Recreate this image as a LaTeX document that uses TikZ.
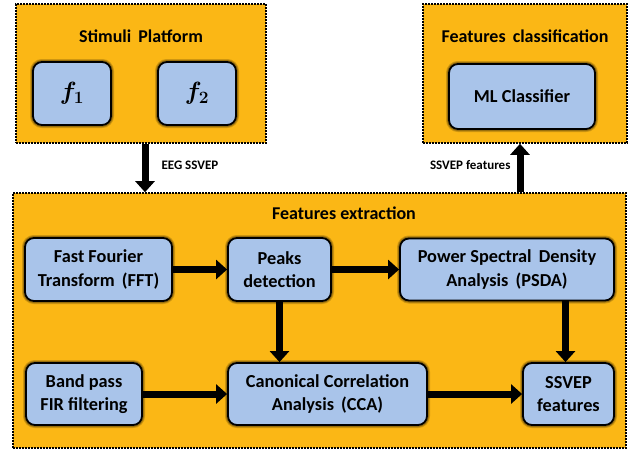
\documentclass[tikz,border=0pt]{standalone}
\usepackage{fontspec}
\setmainfont{Carlito}
\usetikzlibrary{arrows.meta}
\definecolor{orng}{HTML}{FBB715}
\definecolor{lblue}{HTML}{A9C4EA}
\begin{document}
\begin{tikzpicture}[x=1pt,y=-1pt,
  group/.style={draw=black, fill=orng, line width=1.6pt, dash pattern=on 1.6pt off 1.4pt, minimum width=#1, inner sep=0pt},
  blk/.style={draw=black, fill=lblue, line width=1.8pt, rounded corners=9pt, align=center,
     inner sep=0pt, font=\bfseries\fontsize{18.3}{23.5}\selectfont,
     preaction={draw=black, line width=6pt, draw opacity=0.18},
     preaction={draw=black, line width=4pt, draw opacity=0.25}},
  fblk/.style={blk, font=\fontsize{24}{28}\selectfont\boldmath},
  ttl/.style={font=\bfseries\fontsize{18}{21}\selectfont},
  lbl/.style={font=\bfseries\fontsize{13}{15}\selectfont},
  arr/.style={line width=7pt, -{Triangle[length=11pt,width=19pt]}}]
\useasboundingbox (0,0) rectangle (637,450);
% groups
\node[group=250pt, minimum height=139pt] (stim) at (141,73.5) {};
\node[group=204pt, minimum height=139pt] (cls) at (525,73.5) {};
\node[group=613pt, minimum height=255pt] (ext) at (319.5,320.5) {};
\node[ttl] (tstim) at (141,36) {Stimuli\, Platform};
\node[ttl] (tcls) at (525,36) {Features\, classification};
\node[ttl] (textr) at (344,213) {Features extraction};
% blocks
\node[fblk, minimum width=78pt, minimum height=63pt] (f1) at (72,93.5) {$f_1$};
\node[fblk, minimum width=78pt, minimum height=63pt] (f2) at (197,93.5) {$f_2$};
\node[blk, minimum width=146pt, minimum height=65pt] (ml) at (522,96.5) {ML Classifier};
\node[blk, minimum width=147pt, minimum height=63pt] (fft) at (98.5,269.5) {Fast Fourier\\Transform\, (FFT)};
\node[blk, minimum width=103pt, minimum height=63pt] (peaks) at (279.5,269.5) {Peaks\\detection};
\node[blk, minimum width=214pt, minimum height=62pt] (psda) at (507,269.5) {Power Spectral\, Density\\Analysis\, (PSDA)};
\node[blk, minimum width=116pt, minimum height=62pt] (band) at (84,394) {Band pass\\FIR filtering};
\node[blk, minimum width=199pt, minimum height=62pt] (cca) at (327.5,394) {Canonical Correlation\\Analysis\, (CCA)};
\node[blk, minimum width=91pt, minimum height=62pt] (ssvep) at (568.5,394) {SSVEP\\features};
% connectors
\draw[arr] ([xshift=4pt]stim.south) -- ([xshift=4pt]stim.south |- ext.north);
\node[lbl, anchor=west] (l1) at (158,165) {EEG SSVEP};
\draw[arr] ([xshift=-5pt]cls.south |- ext.north) -- ([xshift=-5pt]cls.south);
\node[lbl, anchor=east] (l2) at (514,165) {SSVEP features};
\draw[arr] (fft.east) -- (peaks.west);
\draw[arr] (peaks.east) -- (psda.west);
\draw[arr] ([xshift=-3pt]ssvep.north |- psda.south) -- ([xshift=-3pt]ssvep.north);
\draw[arr] (peaks.south) -- (peaks.south |- cca.north);
\draw[arr] (band.east) -- (band.east -| cca.west);
\draw[arr] (cca.east) -- (ssvep.west);
\end{tikzpicture}
\end{document}
